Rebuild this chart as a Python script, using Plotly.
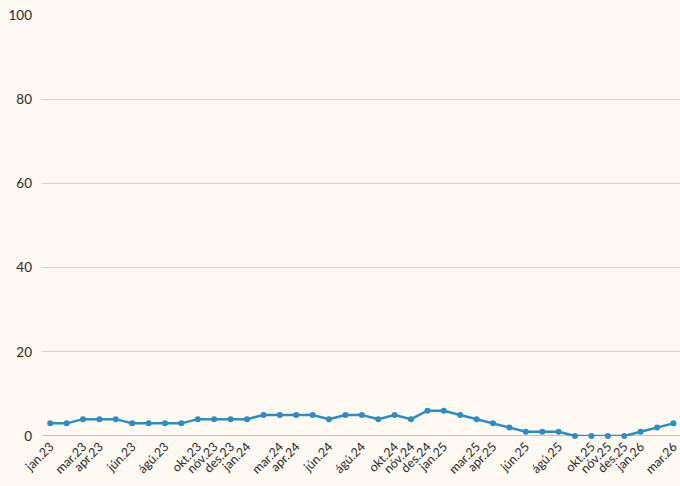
import plotly.graph_objects as go

months = ["jan.23","feb.23","mar.23","apr.23","maí.23","jún.23","júl.23","ágú.23","sep.23","okt.23","nóv.23","des.23",
          "jan.24","feb.24","mar.24","apr.24","maí.24","jún.24","júl.24","ágú.24","sep.24","okt.24","nóv.24","des.24",
          "jan.25","feb.25","mar.25","apr.25","maí.25","jún.25","júl.25","ágú.25","sep.25","okt.25","nóv.25","des.25",
          "jan.26","feb.26","mar.26"]
values = [3,3,4,4,4,3,3,3,3,4,4,4,
          4,5,5,5,5,4,5,5,4,5,4,6,
          6,5,4,3,2,1,1,1,0,0,0,0,
          1,2,3]
tick_labels = ["jan.23","mar.23","apr.23","jún.23","ágú.23","okt.23","nóv.23","des.23","jan.24","mar.24","apr.24",
               "jún.24","ágú.24","okt.24","nóv.24","des.24","jan.25","mar.25","apr.25","jún.25","ágú.25","okt.25",
               "nóv.25","des.25","jan.26","mar.26"]

bg = "#FEF9F2"
fig = go.Figure(go.Scatter(
    x=months, y=values, mode="lines+markers",
    line=dict(color="#2F8BC0", width=2.5),
    marker=dict(color="#2F8BC0", size=6),
    hoverinfo="x+y", cliponaxis=False,
))
fig.update_layout(
    width=680, height=486,
    margin=dict(l=42, r=0, t=15, b=50),
    paper_bgcolor=bg, plot_bgcolor=bg,
    font=dict(family="Lato, sans-serif", size=13.5, color="#2A2A2A"),
    showlegend=False,
)
fig.update_xaxes(
    type="category", tickmode="array", tickvals=tick_labels, ticktext=tick_labels,
    tickangle=-45, range=[-0.5, 38.4], showgrid=False, ticks="",
    tickfont=dict(size=12.5), showline=False, zeroline=False, automargin=False,
)
fig.update_yaxes(
    range=[0, 100], tickvals=[0,20,40,60,80,100], showgrid=True, gridcolor="#D5D2CC",
    gridwidth=1, zeroline=False, showline=False, ticks="", ticklabelstandoff=9,
    automargin=False,
)
fig.add_shape(type="line", xref="paper", yref="y", x0=0, x1=1, y0=0, y1=0,
              line=dict(color="#8C8A86", width=1.2), layer="below")
fig.write_html("out.html", config={"displayModeBar": False},
               post_script="document.body.style.margin='0px';document.body.style.overflow='hidden';document.body.style.background='" + bg + "';")
